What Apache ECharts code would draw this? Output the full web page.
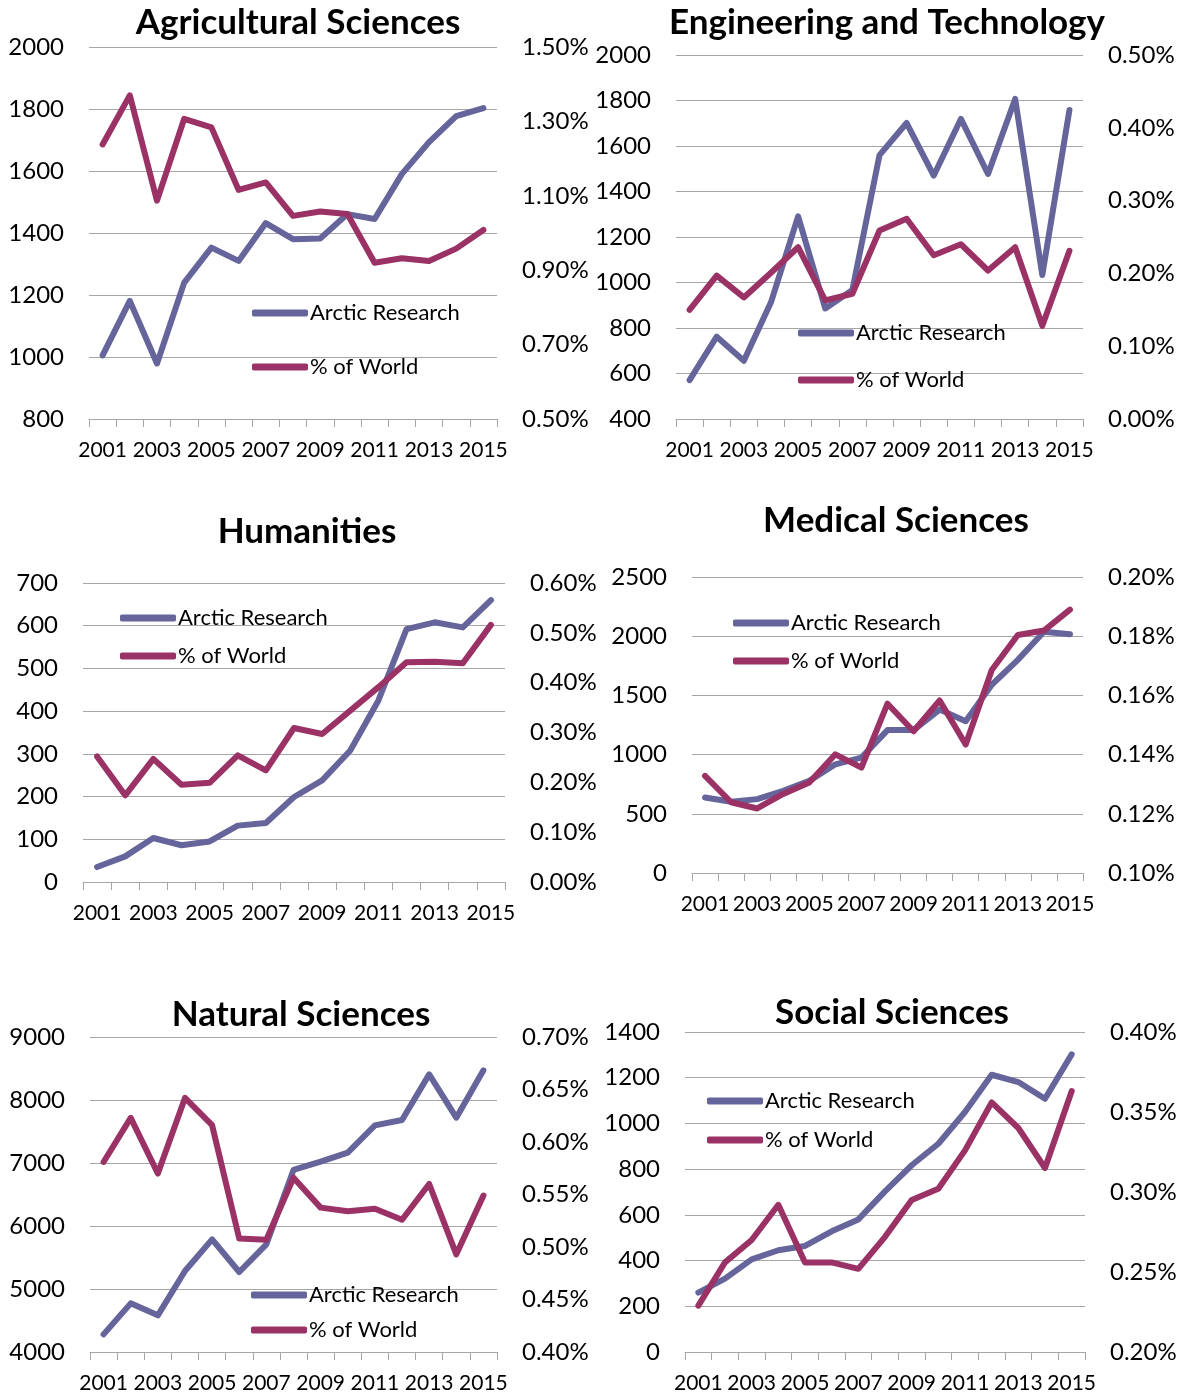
<!DOCTYPE html>
<html>
<head>
<meta charset="utf-8">
<script src="https://cdn.jsdelivr.net/npm/echarts@6/dist/echarts.min.js"></script>
<style>
html,body{margin:0;padding:0;background:#fff;}
#chart{width:1184px;height:1399px;}
</style>
</head>
<body>
<div id="chart"></div>
<script>
const years = ['2001','2002','2003','2004','2005','2006','2007','2008','2009','2010','2011','2012','2013','2014','2015'];
const seriesNames = ['Arctic Research', '% of World'];

const titles = ['Agricultural Sciences','Engineering and Technology','Humanities','Medical Sciences','Natural Sciences','Social Sciences'];

const agriArctic = [1005,1181,979,1240,1353,1310,1432,1380,1382,1461,1445,1590,1693,1777,1803];
const agriWorld  = [1.238,1.370,1.087,1.307,1.284,1.116,1.136,1.046,1.058,1.051,0.920,0.932,0.925,0.958,1.008];

const engArctic = [571,762,656,913,1291,886,967,1560,1701,1470,1719,1477,1807,1033,1758];
const engWorld  = [0.150,0.197,0.167,0.201,0.236,0.163,0.172,0.259,0.275,0.225,0.240,0.204,0.236,0.128,0.231];

const humArctic = [35,60,103,86,95,132,138,199,238,308,425,592,608,596,660];
const humWorld  = [0.252,0.174,0.247,0.195,0.199,0.254,0.224,0.309,0.297,0.344,0.391,0.441,0.442,0.439,0.516];

const medArctic = [638,602,624,694,778,918,974,1207,1207,1380,1282,1590,1800,2038,2016];
const medWorld  = [0.1328,0.1239,0.1218,0.1267,0.1306,0.1401,0.1356,0.1572,0.1479,0.1583,0.1434,0.1686,0.1804,0.1819,0.1890];

const natArctic = [4280,4772,4582,5286,5788,5270,5709,6889,7021,7164,7598,7683,8407,7720,8471];
const natWorld  = [0.581,0.623,0.570,0.642,0.616,0.508,0.507,0.566,0.5375,0.534,0.5365,0.526,0.560,0.493,0.549];

const socArctic = [260,321,405,445,464,528,580,703,817,911,1050,1213,1181,1108,1302];
const socWorld  = [0.229,0.256,0.270,0.292,0.256,0.256,0.252,0.272,0.295,0.302,0.326,0.356,0.340,0.315,0.363];

// axis ranges: [min, max, interval]
const leftRanges  = [[800,2000,200],[400,2000,200],[0,700,100],[0,2500,500],[4000,9000,1000],[0,1400,200]];
const rightRanges = [[0.5,1.5,0.2],[0,0.5,0.1],[0,0.6,0.1],[0.10,0.20,0.02],[0.40,0.70,0.05],[0.20,0.40,0.05]];

const arcticData = [agriArctic, engArctic, humArctic, medArctic, natArctic, socArctic];
const worldData  = [agriWorld, engWorld, humWorld, medWorld, natWorld, socWorld];

// layout (pixels)
const layout = [
  {gl:89,  gr:497,  gt:47,   gb:419,  ty:23,   tx:298, lx:252, ly1:313,  ly2:367},
  {gl:676, gr:1083, gt:55,   gb:419,  ty:23,   tx:887, lx:798, ly1:333,  ly2:380},
  {gl:83,  gr:505,  gt:583,  gb:882,  ty:532,  tx:307, lx:120, ly1:618,  ly2:656},
  {gl:692, gr:1083, gt:577,  gb:873,  ty:521,  tx:896, lx:733, ly1:623,  ly2:661},
  {gl:90,  gr:497,  gt:1037, gb:1352, ty:1015, tx:301, lx:251, ly1:1295, ly2:1330},
  {gl:685, gr:1085, gt:1032, gb:1352, ty:1013, tx:892, lx:707, ly1:1101, ly2:1140}
];

const BLUE = '#65659B';
const RED = '#9B3265';
const FONT = 'Lato';
const W = 1184, H = 1399;

const option = {
  animation:false,
  backgroundColor:'#fff',
  textStyle:{fontFamily:FONT},
  title:[], grid:[], xAxis:[], yAxis:[], series:[], legend:[]
};

layout.forEach((L,i)=>{
  option.title.push({
    text:titles[i], left:L.tx, top:L.ty, textAlign:'center', textVerticalAlign:'middle', padding:0,
    textStyle:{fontFamily:FONT, fontWeight:'bold', fontSize:35, color:'#000'}
  });
  option.grid.push({left:L.gl, top:L.gt, width:L.gr-L.gl, height:L.gb-L.gt, containLabel:false});
  option.xAxis.push({
    type:'category', gridIndex:i, data:years, boundaryGap:true,
    axisLine:{show:true, lineStyle:{color:'#A6A6A6', width:1}},
    axisTick:{show:true, interval:0, length:8, lineStyle:{color:'#A6A6A6'}},
    axisLabel:{interval:1, margin:21, fontFamily:FONT, fontSize:21, color:'#000'},
    splitLine:{show:false}
  });
  const lr = leftRanges[i], rr = rightRanges[i];
  option.yAxis.push({
    type:'value', gridIndex:i, position:'left', min:lr[0], max:lr[1], interval:lr[2],
    axisLine:{show:false}, axisTick:{show:false},
    axisLabel:{margin:25, fontFamily:FONT, fontSize:24, color:'#000', formatter:v=>String(Math.round(v))},
    splitLine:{show:true, lineStyle:{color:'#A6A6A6', width:1}}
  });
  option.yAxis.push({
    type:'value', gridIndex:i, position:'right', min:rr[0], max:rr[1], interval:rr[2],
    axisLine:{show:false}, axisTick:{show:false},
    axisLabel:{margin:25, fontFamily:FONT, fontSize:24, color:'#000',
      formatter:v=>v.toFixed(2)+'%'},
    splitLine:{show:false}
  });
  option.series.push({
    name:seriesNames[0], type:'line', xAxisIndex:i, yAxisIndex:2*i, data:arcticData[i],
    symbol:'none', lineStyle:{color:BLUE, width:6, cap:'round', join:'round'}, itemStyle:{color:BLUE}, z:2
  });
  option.series.push({
    name:seriesNames[1], type:'line', xAxisIndex:i, yAxisIndex:2*i+1, data:worldData[i],
    symbol:'none', lineStyle:{color:RED, width:6, cap:'round', join:'round'}, itemStyle:{color:RED}, z:3
  });
  [[seriesNames[0],L.ly1],[seriesNames[1],L.ly2]].forEach(([nm,y])=>{
    option.legend.push({
      data:[nm], left:L.lx, top:y-12, orient:'vertical', icon:'roundRect', padding:0,
      itemWidth:56, itemHeight:7, selectedMode:false,
      textStyle:{fontFamily:FONT, fontSize:22, color:'#000', lineHeight:24, padding:[0,0,0,-3]}
    });
  });
});

const chart = echarts.init(document.getElementById('chart'), null, {renderer:'canvas', width:W, height:H});
chart.setOption(option);
</script>
</body>
</html>
